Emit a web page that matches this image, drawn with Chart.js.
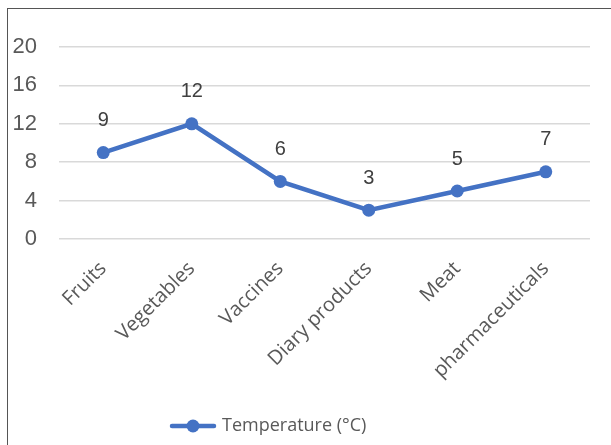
<!DOCTYPE html>
<html lang="en">
<head>
    <meta charset="UTF-8">
    <title>Temperature (°C)</title>
    <script src="https://cdn.jsdelivr.net/npm/chart.js"></script>
    <style>
        body { margin: 0; background: #fff; }
        #frame { position: absolute; left: 7px; top: 8px; width: 700px; height: 500px; border: 1px solid #555; }
        #wrap { position: absolute; left: 0; top: 0; width: 611px; height: 445px; }
    </style>
</head>
<body>
    <div id="frame"></div>
    <div id="wrap"><canvas id="myChart" width="611" height="445"></canvas></div>

    <script>
        const categories = ["Fruits", "Vegetables", "Vaccines", "Diary products", "Meat", "pharmaceuticals"];
        const temperatures = [9, 12, 6, 3, 5, 7];
        const yTicks = [0, 4, 8, 12, 16, 20];
        const seriesName = "Temperature (°C)";

        const blue = "#4472C4";

        // legend marker: line with a dot, like the office style
        const marker = document.createElement('canvas');
        marker.width = 48;
        marker.height = 16;
        const mctx = marker.getContext('2d');
        mctx.strokeStyle = blue;
        mctx.lineWidth = 4.5;
        mctx.lineCap = 'round';
        mctx.beginPath();
        mctx.moveTo(3, 8);
        mctx.lineTo(45, 8);
        mctx.stroke();
        mctx.fillStyle = blue;
        mctx.beginPath();
        mctx.arc(24, 8, 6.5, 0, Math.PI * 2);
        mctx.fill();

        const valueLabels = {
            id: 'valueLabels',
            afterDatasetsDraw(chart) {
                const ctx = chart.ctx;
                const meta = chart.getDatasetMeta(0);
                ctx.save();
                ctx.font = '20px "Liberation Sans", Arial, sans-serif';
                ctx.fillStyle = '#404040';
                ctx.textAlign = 'center';
                ctx.textBaseline = 'middle';
                meta.data.forEach((pt, i) => {
                    ctx.fillText(String(temperatures[i]), pt.x, pt.y - 32);
                });
                ctx.restore();
            }
        };

        const moveLegend = {
            id: 'moveLegend',
            afterLayout(chart) {
                const lg = chart.legend;
                const w = lg.right - lg.left;
                lg.left = 163;
                lg.right = 163 + w;
            }
        };

        const ctx = document.getElementById('myChart').getContext('2d');
        const chart = new Chart(ctx, {
            type: 'line',
            data: {
                labels: categories,
                datasets: [{
                    label: seriesName,
                    data: temperatures,
                    borderColor: blue,
                    backgroundColor: blue,
                    borderWidth: 4.5,
                    pointRadius: 6.5,
                    pointBackgroundColor: blue,
                    pointBorderWidth: 0,
                    tension: 0
                }]
            },
            options: {
                responsive: false,
                animation: false,
                layout: { padding: { left: 0, right: 21, top: 47, bottom: 0 } },
                scales: {
                    x: {
                        offset: true,
                        grid: { display: false, drawTicks: false },
                        border: { display: false },
                        ticks: {
                            maxRotation: 45,
                            minRotation: 45,
                            padding: 18,
                            color: '#595959',
                            font: { family: '"Open Sans", sans-serif', size: 20 }
                        },
                        afterFit(scale) {
                            scale.height = 445 - 239 - scale.chart.legend.height;
                        }
                    },
                    y: {
                        min: 0,
                        max: 20,
                        afterBuildTicks(scale) {
                            scale.ticks = yTicks.map(v => ({ value: v }));
                        },
                        grid: { color: '#d9d9d9', lineWidth: 1.5, drawTicks: false },
                        border: { display: false },
                        ticks: {
                            padding: 22,
                            color: '#595959',
                            font: { family: '"Liberation Sans", Arial, sans-serif', size: 22 }
                        },
                        afterFit(scale) {
                            scale.width = 59;
                        }
                    }
                },
                plugins: {
                    tooltip: { enabled: false },
                    legend: {
                        position: 'bottom',
                        align: 'start',
                        labels: {
                            usePointStyle: true,
                            pointStyle: marker,
                            pointStyleWidth: 40,
                            padding: 10,
                            color: '#595959',
                            font: { family: '"Open Sans", sans-serif', size: 18 },
                            generateLabels(c) {
                                return [{
                                    text: seriesName,
                                    pointStyle: marker,
                                    fillStyle: blue,
                                    strokeStyle: blue,
                                    lineWidth: 0,
                                    fontColor: '#595959',
                                    datasetIndex: 0
                                }];
                            }
                        }
                    }
                }
            },
            plugins: [valueLabels, moveLegend]
        });
    </script>
</body>
</html>
